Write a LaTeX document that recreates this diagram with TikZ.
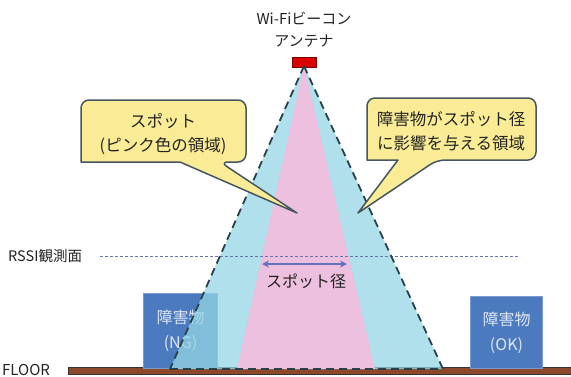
\documentclass[tikz,border=0pt]{standalone}
\usepackage{fontspec}
\setmainfont{Noto Sans CJK JP}
\usetikzlibrary{arrows.meta}
\definecolor{cyanfill}{RGB}{148,214,228}
\definecolor{pinkfill}{RGB}{236,192,222}
\definecolor{calloutfill}{RGB}{250,236,150}
\definecolor{calloutdraw}{RGB}{70,85,95}
\definecolor{obsfill}{RGB}{76,122,190}
\definecolor{obstext}{RGB}{222,230,242}
\definecolor{floorfill}{RGB}{140,72,40}
\definecolor{dashcol}{RGB}{40,65,75}
\definecolor{rssicol}{RGB}{100,120,170}
\definecolor{arrowcol}{RGB}{100,115,190}
\definecolor{txt}{RGB}{35,35,35}
\begin{document}
\begin{tikzpicture}[x=1pt,y=-1pt,
  calloutshape/.style={fill=calloutfill,draw=calloutdraw,line width=1.5pt,line join=round},
  callouttext/.style={align=center,text=txt,font=\fontsize{16.5}{23.5}\selectfont,inner sep=0},
  obstacle/.style={fill=obsfill,draw=obsfill!75!white,line width=1pt,align=center,text=obstext,
    font=\fontsize{16}{25}\selectfont,minimum width=74pt,minimum height=75pt,anchor=south west,inner sep=0},
  edgedash/.style={dashcol,line width=1.8pt,dash pattern=on 8pt off 5pt},
  plaintext/.style={text=txt,inner sep=0}]
\useasboundingbox (0,0) rectangle (571,376);
% floor
\node[fill=floorfill,draw=black!80,line width=1pt,minimum width=505pt,minimum height=7pt,anchor=north west,inner sep=0] (floor) at (68,367) {};
\node[plaintext,anchor=west,font=\fontsize{15}{17}\selectfont] (floorlbl) at (2,370) {FLOOR};
% obstacles
\node[obstacle] (ng) at (143,369) {障害物\\(NG)};
\node[obstacle,minimum width=72pt,minimum height=72pt] (ok) at (470,369) {障害物\\(OK)};
% antenna
\node[fill=red!85!black,draw=red!50!black,line width=0.8pt,minimum width=24pt,minimum height=10pt,inner sep=0] (ant) at (304,62) {};
\coordinate (apex) at (304,66);
\coordinate (cL) at (170,369);
\coordinate (cR) at (443,369);
\coordinate (pL) at (237,369);
\coordinate (pR) at (375,369);
% regions
\fill[cyanfill,opacity=0.75] (apex) -- (cL) -- (cR) -- cycle;
\fill[pinkfill] (apex) -- (pL) -- (pR) -- cycle;
% RSSI plane
\coordinate (rssiA) at (100,256);
\coordinate (rssiB) at (520,256);
\draw[rssicol,line width=0.8pt,dash pattern=on 3pt off 2pt] (rssiA) -- (rssiB);
\node[plaintext,anchor=west,font=\fontsize{14.5}{16}\selectfont] (rssilbl) at (8,256) {RSSI観測面};
% edges
\draw[edgedash] (apex) -- (cL);
\draw[edgedash] (apex) -- (cR);
\draw[edgedash] (cL) -- (cR);
% spot diameter
\coordinate (sdL) at (262,264);
\coordinate (sdR) at (347,264);
\draw[arrowcol,line width=1.6pt,{Stealth[length=7pt,width=7pt]}-{Stealth[length=7pt,width=7pt]}] (sdL) -- (sdR);
\node[plaintext,font=\fontsize{16}{18}\selectfont] (sdlbl) at (306,281) {スポット径};
% title
\node[plaintext,align=center,font=\fontsize{15}{22}\selectfont] (title) at (304,30) {Wi-Fiビーコン\\アンテナ};
% left callout
\draw[calloutshape] (160,100) [rounded corners=8pt] -- (246,100) -- (246,162) -- (220,162) [sharp corners] -- (297,213) -- (180,162) -- (81,162) [rounded corners=8pt] -- (81,100) -- cycle;
\node[callouttext] (c1) at (163,134) {スポット\\(ピンク色の領域)};
% right callout
\draw[calloutshape] (450,98) [rounded corners=8pt] -- (536,98) -- (536,160) -- (437,160) [sharp corners] -- (358,213) -- (398,160) -- (367,160) [rounded corners=8pt] -- (367,98) -- cycle;
\node[callouttext] (c2) at (451,131) {障害物がスポット径\\に影響を与える領域};
\end{tikzpicture}
\end{document}
